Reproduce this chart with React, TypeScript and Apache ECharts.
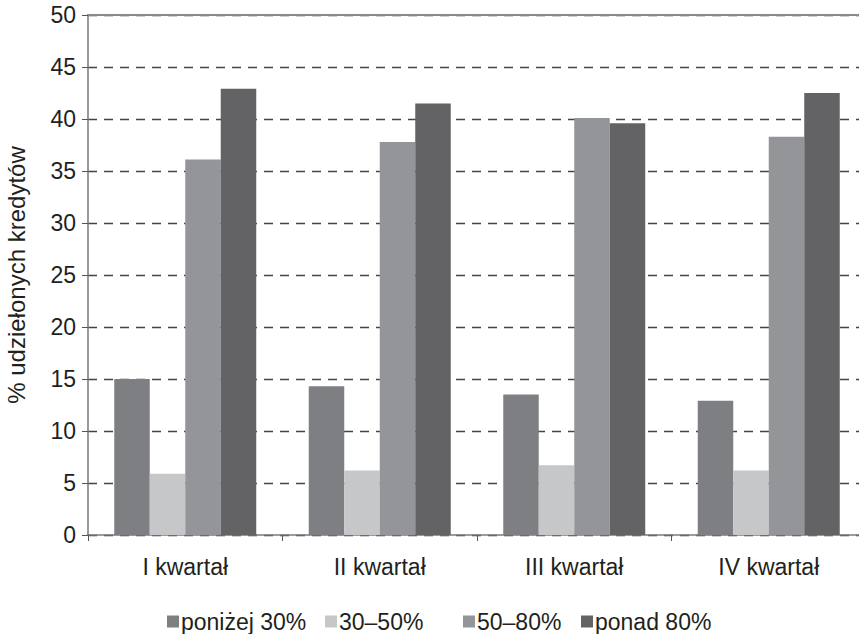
import React, { useEffect, useRef } from "react";
import * as echarts from "echarts";

const categories = ["I kwartał", "II kwartał", "III kwartał", "IV kwartał"];
const seriesNames = ["poniżej 30%", "30–50%", "50–80%", "ponad 80%"];
const below30 = [15.0, 14.3, 13.5, 12.9];
const from30to50 = [5.9, 6.2, 6.7, 6.2];
const from50to80 = [36.1, 37.8, 40.1, 38.3];
const above80 = [42.9, 41.5, 39.6, 42.5];
const seriesValues = [below30, from30to50, from50to80, above80];
const colors = ["#7e7f83", "#c6c7c9", "#949599", "#636365"];
const legendLefts = [162, 320, 458, 576];

const FONT = "'Liberation Sans', Arial, Helvetica, sans-serif";
const TEXT = "#231f20";

export default function App() {
  const ref = useRef<HTMLDivElement>(null);
  useEffect(() => {
    if (!ref.current) return;
    const chart = echarts.init(ref.current, undefined, { renderer: "svg" });
    chart.setOption({
      animation: false,
      textStyle: { fontFamily: FONT },
      grid: { left: 88, right: -7, top: 15, bottom: 99, outerBoundsMode: "none", containLabel: false },
      legend: seriesNames.map((n, i) => ({
        data: [n],
        left: legendLefts[i],
        top: 605,
        itemWidth: 12,
        itemHeight: 12,
        icon: "rect",
        textStyle: { fontSize: 23, color: TEXT, fontFamily: FONT, padding: [0, 0, 0, -3] },
        selectedMode: false,
      })),
      xAxis: [
        {
          type: "category",
          data: categories,
          axisLine: { lineStyle: { color: "#7a7a7a", width: 1.5 } },
          axisTick: { show: true, interval: 0, length: 6, lineStyle: { color: "#555" } },
          axisLabel: { fontSize: 23, color: TEXT, margin: 20, fontFamily: FONT },
          splitLine: { show: false },
        },
        {
          type: "category",
          data: categories,
          position: "top",
          axisLine: { show: true, lineStyle: { color: "#8a8a8a", width: 2 } },
          axisTick: { show: false },
          axisLabel: { show: false },
          splitLine: { show: false },
        },
      ],
      yAxis: {
        type: "value",
        min: 0,
        max: 50,
        interval: 5,
        name: "% udziełonych kredytów",
        nameLocation: "middle",
        nameGap: 60,
        nameTextStyle: { fontSize: 24, color: TEXT, fontFamily: FONT },
        axisLine: { show: true, lineStyle: { color: "#7a7a7a", width: 1.5 } },
        axisTick: { show: true, length: 6, lineStyle: { color: "#555" } },
        axisLabel: { fontSize: 23, color: TEXT, margin: 12, fontFamily: FONT },
        splitLine: { show: true, lineStyle: { color: "#444", type: [9, 7], width: 1.3 } },
      },
      series: seriesNames.map((n, i) => ({
        name: n,
        type: "bar",
        data: seriesValues[i],
        xAxisIndex: 0,
        barGap: "0%",
        barCategoryGap: "27%",
        itemStyle: { color: colors[i] },
      })),
    });
    return () => chart.dispose();
  }, []);
  return (
    <div
      ref={ref}
      style={{ position: "absolute", left: 0, top: 0, width: 859, height: 634 }}
    />
  );
}
